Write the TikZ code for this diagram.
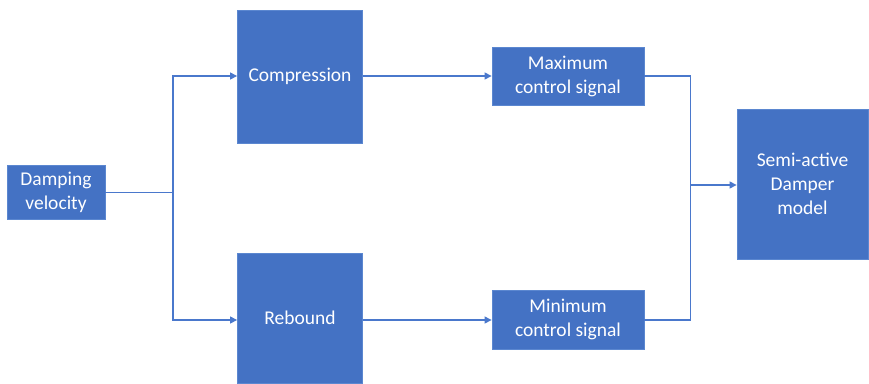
\documentclass[tikz,border=0pt]{standalone}
\usepackage{fontspec}
\setmainfont{Carlito}
\usetikzlibrary{arrows.meta}
\definecolor{boxblue}{HTML}{4472C4}
\definecolor{edgeblue}{HTML}{5B87D0}
\definecolor{wireblue}{HTML}{4A78CC}
\begin{document}
\begin{tikzpicture}[x=1pt,y=-1pt,
  blk/.style={draw=edgeblue,line width=0.8pt,fill=boxblue,text=white,align=center,
    font=\fontsize{19.5}{24}\selectfont,inner sep=0pt},
  wire/.style={draw=wireblue,line width=1.1pt},
  arr/.style={wire,-{Triangle[length=7pt,width=7pt]}}]
\useasboundingbox (0,0) rectangle (869,383);
\node[blk,minimum width=98pt,minimum height=54pt] (dv) at (56,192.5) {Damping\\velocity};
\node[blk,minimum width=125pt,minimum height=133pt] (comp) at (300,76.5) {Compression};
\node[blk,minimum width=125pt,minimum height=130pt] (reb) at (300,318) {Rebound};
\node[blk,minimum width=152pt,minimum height=58pt] (max) at (568,76) {Maximum\\control signal};
\node[blk,minimum width=152pt,minimum height=59pt] (min) at (568,319.5) {Minimum\\control signal};
\node[blk,minimum width=131pt,minimum height=150pt] (dmp) at (802.5,184) {Semi-active\\Damper\\model};
\coordinate (split) at (173,192.5);
\coordinate (join) at (690.5,185);
\draw[wire] (dv.east) -- (split);
\draw[arr] (split) |- (comp.west |- 0,76);
\draw[arr] (split) |- (reb.west |- 0,320);
\draw[arr] (comp.east |- 0,76) -- (max.west |- 0,76);
\draw[arr] (reb.east |- 0,320) -- (min.west |- 0,320);
\draw[wire] (max.east |- 0,76) -| (join);
\draw[wire] (min.east |- 0,320) -| (join);
\draw[arr] (join) -- (dmp.west |- join);
\end{tikzpicture}
\end{document}
